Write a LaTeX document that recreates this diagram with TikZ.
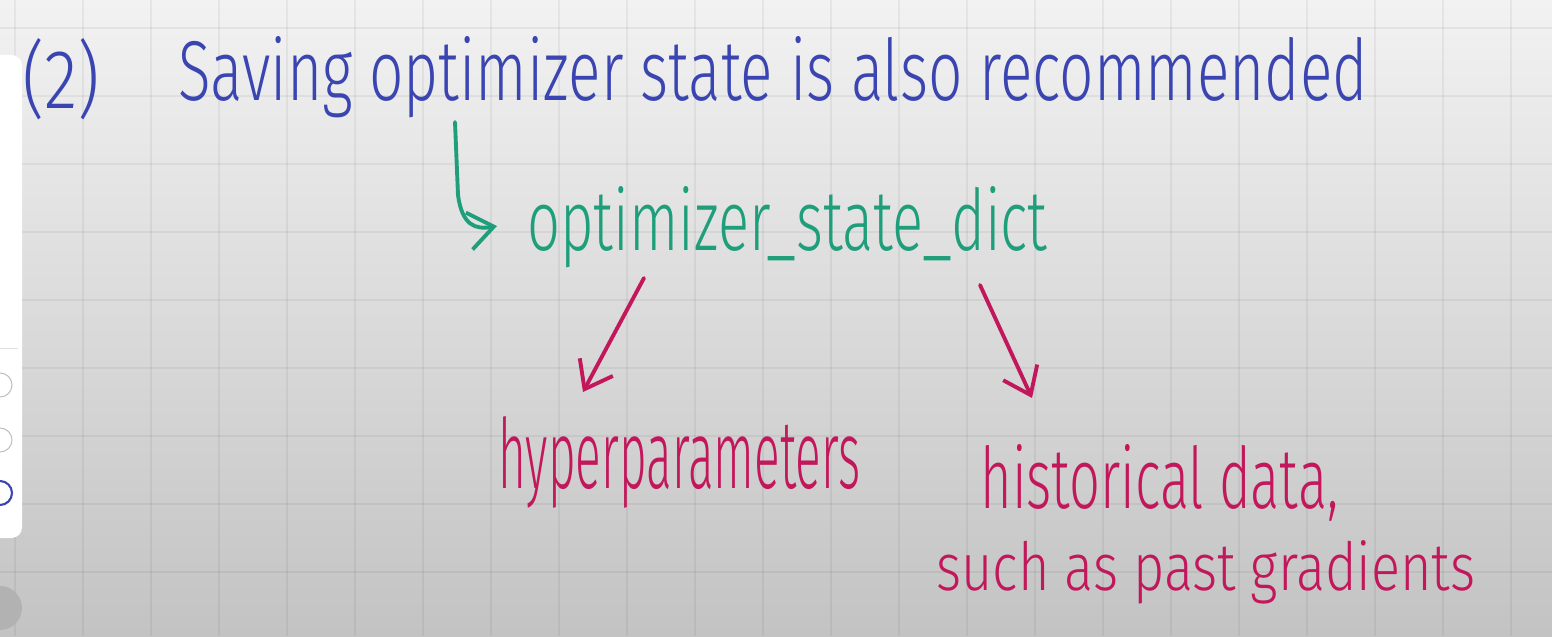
\documentclass[tikz,border=0pt]{standalone}
\usepackage{fontspec}
\usepackage{graphicx}
\usetikzlibrary{calc, arrows.meta, positioning}
\newfontfamily\handfont{Fira Sans Light}
\newlength{\pxu}\setlength{\pxu}{0.02cm}
\newcommand{\hand}[3]{\resizebox{#1\pxu}{#2\pxu}{\handfont #3}}
\definecolor{penblue}{HTML}{3A45B2}
\definecolor{pengreen}{HTML}{1E9E7A}
\definecolor{penred}{HTML}{C2185B}
\definecolor{papertop}{HTML}{F2F2F2}
\definecolor{papermid}{HTML}{E4E4E4}
\definecolor{paperbot}{HTML}{C3C3C3}

\begin{document}
\begin{tikzpicture}[x=0.02cm, y=-0.02cm,
    txt/.style={inner sep=0pt, anchor=base west},
    gridline/.style={black, opacity=0.05, line width=0.8pt},
    pen/.style={line width=2.2pt, line cap=round, line join=round},
    barb/.style={-{Straight Barb[length=0.5cm, width=0.75cm]}}]
    \useasboundingbox (0,0) rectangle (1552,636);
    \shade[top color=papertop, middle color=papermid, bottom color=paperbot] (0,0) rectangle (1552,636);
    \foreach \gx in {15,83,...,1552} \draw[gridline] (\gx,0) -- (\gx,636);
    \foreach \gy in {28,96,...,636} \draw[gridline] (0,\gy) -- (1552,\gy);

    \fill[white, rounded corners=6pt] (-20,55) rectangle (22,538);
    \draw[black!12] (0,348) -- (18,348);
    \draw[black!25, line width=0.6pt] (0,385) circle (12);
    \draw[black!25, line width=0.6pt] (0,440) circle (12);
    \draw[penblue, line width=1.2pt] (0,493) circle (12);
    \fill[black!30] (0,608) circle (22);

    \node[txt, text=penblue] (two) at (22,108) {\hand{78}{70}{(2)}};
    \node[txt, text=penblue] (title) at (178,100) {\hand{1189}{64}{Saving optimizer state is also recommended}};
    \node[txt, text=pengreen] (dict) at (527,250) {\hand{520}{64}{optimizer\_state\_dict}};
    \node[txt, text=penred] (hyper) at (498,488) {\hand{362}{72}{hyperparameters}};
    \node[txt, text=penred] (hist) at (980,508) {\hand{358}{64}{historical data,}};
    \node[txt, text=penred] (past) at (936,590) {\hand{539}{50}{such as past gradients}};

    \coordinate (hook) at ($(title.base west)+(277,22)$);
    \draw[pen, barb, pengreen] (hook) -- ++(3,73) .. controls +(4,30) and (475,230) .. ($(dict.base west)+(-30,-24)$);
    \draw[pen, barb, penred] ($(dict.base west)+(117,28)$) -- ($(hyper.base west)+(85,-96)$);
    \draw[pen, barb, penred] ($(dict.base west)+(453,35)$) -- ($(hist.base west)+(52,-110)$);
\end{tikzpicture}
\end{document}
